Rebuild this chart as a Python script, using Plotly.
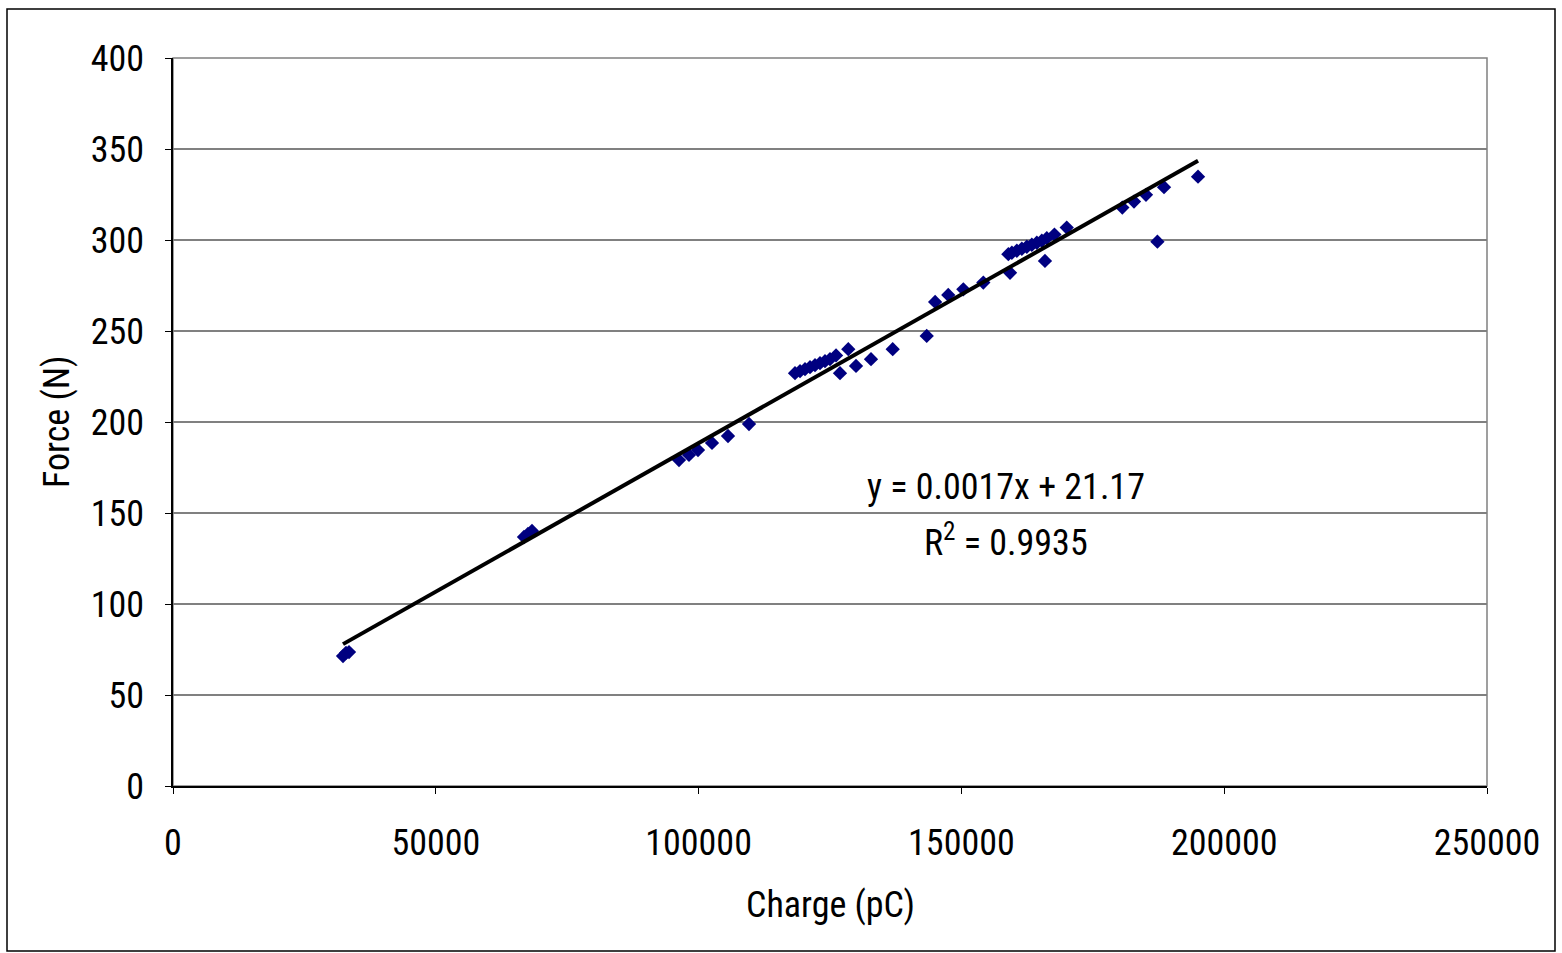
import numpy as np
import plotly.graph_objects as go

# Charge (pC) vs force (N) calibration measurements
charge_pc = [
    32345, 32915, 33486,
    66781, 67542, 68303,
    96271, 98174, 99886, 102550, 105594, 109590,
    118342, 119300, 120250, 121200, 122150, 123100, 124050, 125000, 126150,
    126900, 128480, 129950, 132800, 136930,
    143400, 145000, 147500, 150370, 154170,
    158930, 159250, 159600, 160550, 161500, 162450, 163400, 164350, 165300, 166250,
    165900, 167700, 170040,
    180620, 182840, 185120, 187290, 188550, 195020,
]
force_n = [
    71.4, 73.1, 73.6,
    136.8, 138.5, 140.1,
    179.1, 181.9, 184.6, 188.5, 192.3, 198.9,
    226.8, 227.9, 229.0, 230.1, 231.2, 232.3, 233.4, 234.5, 236.6,
    226.8, 240.0, 230.8, 234.5, 240.0,
    247.3, 266.0, 269.8, 272.9, 276.6,
    292.2, 282.0, 293.0, 294.1, 295.2, 296.3, 297.4, 298.5, 299.6, 301.0,
    288.5, 303.0, 306.8,
    317.8, 321.1, 324.8, 299.1, 329.0, 334.8,
]

x_ticks = [0, 50000, 100000, 150000, 200000, 250000]
y_ticks = [0, 50, 100, 150, 200, 250, 300, 350, 400]

fit_label = "y = 0.0017x + 21.17"
r2_label = "R<sup>2</sup> = 0.9935"

# Least-squares linear trendline over the measured span
slope, intercept = np.polyfit(charge_pc, force_n, 1)
x_fit = np.array([min(charge_pc), max(charge_pc)])
y_fit = slope * x_fit + intercept

FONT = "Roboto Condensed, Liberation Sans Narrow, Arial Narrow, sans-serif"
FS = 36

fig = go.Figure()
fig.add_trace(go.Scatter(
    x=charge_pc, y=force_n, mode="markers",
    marker=dict(symbol="diamond", size=11, color="#000080"),
    showlegend=False, cliponaxis=False,
))
fig.add_trace(go.Scatter(
    x=x_fit, y=y_fit, mode="lines",
    line=dict(color="black", width=4),
    showlegend=False,
))

W, H = 1562, 953
L, R, T, B = 173, 75, 58, 167
pw, ph = W - L - R, H - T - B

def px(xp):
    return (xp - L) / pw

def py(yp):
    return (H - B - yp) / ph

# Outer chart-area frame
fig.add_shape(type="rect", xref="paper", yref="paper",
              x0=px(7), x1=px(1555), y0=py(951), y1=py(9),
              line=dict(color="black", width=1.5), layer="below")
# Plot-area frame
fig.add_shape(type="rect", xref="paper", yref="paper",
              x0=0, x1=1, y0=0, y1=1,
              line=dict(color="#808080", width=1.5), layer="below")

def label(xp, yp, text, angle=0):
    fig.add_annotation(x=px(xp), y=py(yp), xref="paper", yref="paper",
                       xanchor="center", yanchor="middle",
                       text=text, showarrow=False, textangle=angle,
                       font=dict(family=FONT, size=FS, color="black"))

# Trendline equation and goodness of fit
label(1006, 487, fit_label)
label(1006, 540, r2_label)

# Axis titles
label(830, 905, "Charge (pC)")
label(57, 422, "Force (N)", angle=-90)

fig.update_layout(
    width=W, height=H,
    margin=dict(l=L, r=R, t=T, b=B),
    paper_bgcolor="white", plot_bgcolor="white",
    font=dict(family=FONT, size=FS, color="black"),
    xaxis=dict(
        range=[0, 250000], tickvals=x_ticks,
        ticktext=[str(v) for v in x_ticks],
        showgrid=False, zeroline=False,
        showline=True, linecolor="black", linewidth=1.5,
        ticks="outside", ticklen=6, tickcolor="black",
        tickfont=dict(size=FS), ticklabelstandoff=18,
    ),
    yaxis=dict(
        range=[0, 400], tickvals=y_ticks,
        showgrid=True, gridcolor="#808080", gridwidth=1.5,
        zeroline=False,
        showline=True, linecolor="black", linewidth=1.5,
        ticks="outside", ticklen=6, tickcolor="black",
        tickfont=dict(size=FS), ticklabelstandoff=14,
    ),
)

fig.write_html("out.html")
